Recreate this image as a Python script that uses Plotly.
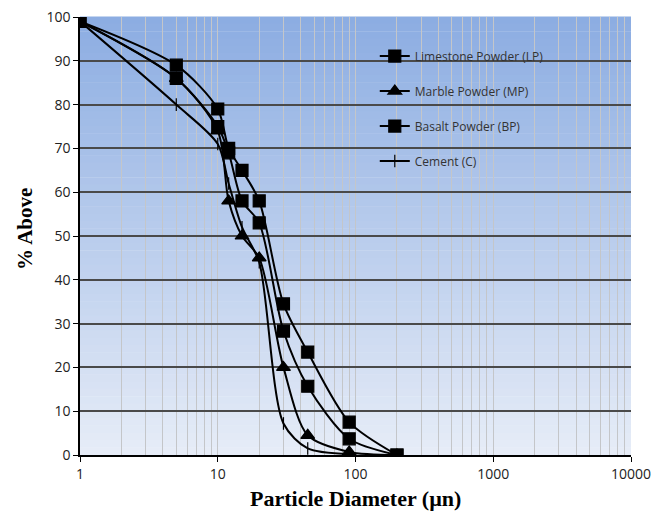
import plotly.graph_objects as go

# ---- data ----
lp_x = [1, 5, 10, 12, 15, 20, 30, 45, 90, 200]
lp_y = [99, 89, 79, 70, 65, 58, 34.5, 23.5, 7.5, 0]

mp_x = [1, 5, 10, 12, 15, 20, 30, 45, 90, 200]
mp_y = [99, 86, 74, 58, 50, 45, 20, 4.5, 0.7, 0]

bp_x = [1, 5, 10, 12, 15, 20, 30, 45, 90, 200]
bp_y = [99, 86, 75, 69, 58, 53, 28.3, 15.7, 3.7, 0]

c_x = [1, 5, 10, 12, 15, 20, 30, 45, 90]
c_y = [99, 80, 71, 62, 52, 44, 7.2, 1.5, 0.2]

names = ["Limestone Powder (LP)", "Marble Powder (MP)", "Basalt Powder (BP)", "Cement (C)"]
x_ticks = [1, 10, 100, 1000, 10000]
y_ticks = list(range(0, 101, 10))

fig = go.Figure()

series = [
    (lp_x, lp_y, names[0], "square", 12),
    (mp_x, mp_y, names[1], "triangle-up", 12),
    (bp_x, bp_y, names[2], "square", 12),
    (c_x, c_y, names[3], "line-ns", 9),
]
for i, (xs, ys, nm, sym, sz) in enumerate(series):
    fig.add_trace(go.Scatter(
        x=xs, y=ys, name=nm, mode="lines+markers",
        line=dict(color="black", width=2, shape="spline", smoothing=0.8),
        marker=dict(symbol=sym, size=sz, color="black",
                    line=dict(color="black", width=1.2)),
        legendgroup=f"g{i}",
    ))

# gradient background (style only)
n = 60
top = (0x8c, 0xad, 0xe2)
bot = (0xe6, 0xec, 0xf7)
for k in range(n):
    t = k / (n - 1)
    col = tuple(round(top[j] + (bot[j] - top[j]) * t) for j in range(3))
    fig.add_shape(type="rect", xref="x domain", yref="y domain",
                  x0=0, x1=1, y0=1 - (k + 1) / n, y1=1 - k / n + 0.001,
                  fillcolor="rgb(%d,%d,%d)" % col, line_width=0, layer="below")

# axis titles placed as annotations
fig.add_annotation(text="<b>% Above</b>", xref="paper", yref="paper",
                   x=-0.1, y=0.516, xanchor="center", yanchor="middle",
                   textangle=-90, showarrow=False,
                   font=dict(family="Liberation Serif", size=21, color="black"))
fig.add_annotation(text="<b>Particle Diameter (µn)</b>", xref="paper", yref="paper",
                   x=0.5, y=-0.1, xanchor="center", yanchor="middle",
                   showarrow=False,
                   font=dict(family="Liberation Serif", size=22, color="black"))

fig.update_layout(
    width=665, height=515,
    margin=dict(l=80, r=34, t=17, b=60),
    paper_bgcolor="white", plot_bgcolor="rgba(0,0,0,0)",
    showlegend=True,
    legend=dict(x=0.535, y=0.944, xanchor="left", yanchor="top",
                bgcolor="rgba(0,0,0,0)", tracegroupgap=16,
                font=dict(family="Open Sans", size=12, color="#333"),
                itemwidth=30),
    font=dict(family="Open Sans", size=14, color="#222"),
)
fig.update_xaxes(
    type="log", range=[0, 4], automargin=False,
    tickvals=x_ticks, ticktext=[str(v) for v in x_ticks],
    ticks="outside", ticklen=5, tickcolor="black",
    showline=True, linecolor="black", linewidth=1.5,
    showgrid=True, gridcolor="#c4c6c9", gridwidth=1,
    minor=dict(dtick="D1", showgrid=True, gridcolor="#c4c6c9", gridwidth=1, ticks=""),
    tickfont=dict(family="Open Sans", size=14, color="#222"),
    zeroline=False,
)
fig.update_yaxes(
    range=[0, 100], automargin=False, tickvals=y_ticks,
    ticks="outside", ticklen=5, tickcolor="black",
    showline=True, linecolor="black", linewidth=1.5,
    showgrid=True, gridcolor="#4a4a4a", gridwidth=1.5,
    tickfont=dict(family="Open Sans", size=14, color="#222"),
    zeroline=False,
)

fig.write_html("out.html")
